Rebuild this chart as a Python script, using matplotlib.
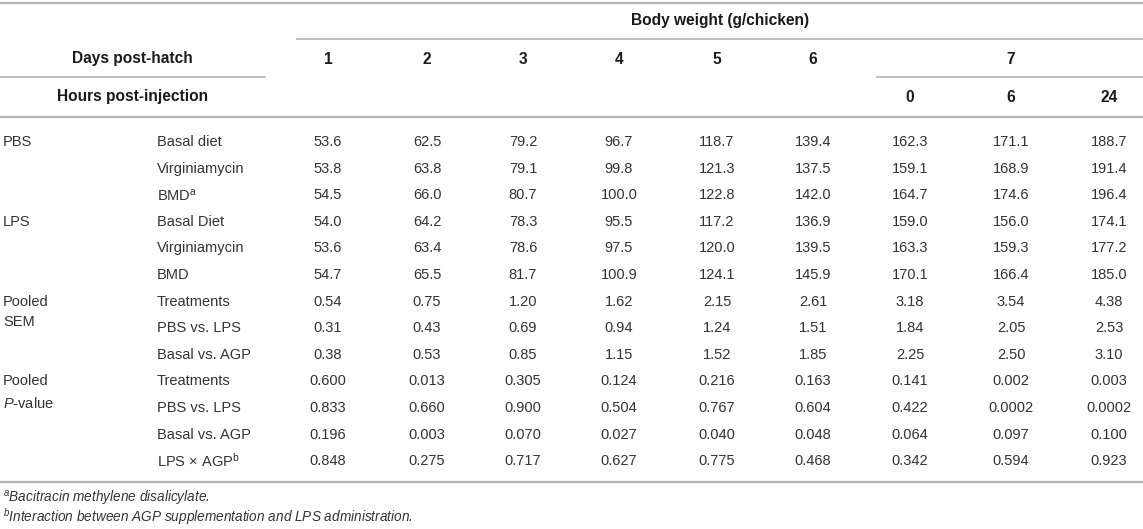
import matplotlib
matplotlib.use("Agg")
import matplotlib.pyplot as plt

plt.rcParams['font.family'] = ['Liberation Sans', 'DejaVu Sans']
plt.rcParams['mathtext.fontset'] = 'custom'
plt.rcParams['mathtext.rm'] = 'Liberation Sans'
plt.rcParams['mathtext.it'] = 'Liberation Sans:italic'
plt.rcParams['mathtext.bf'] = 'Liberation Sans:bold'

# table content
title = 'Body weight (g/chicken)'
days = ['1', '2', '3', '4', '5', '6', '7']
hours = ['0', '6', '24']
groups = ['PBS', '', '', 'LPS', '', '', 'Pooled\nSEM', '', '',
          'Pooled\n$\\mathit{P}$-value', '', '', '']
treatments = ['Basal diet', 'Virginiamycin', 'BMD$^{\\mathrm{a}}$',
              'Basal Diet', 'Virginiamycin', 'BMD',
              'Treatments', 'PBS vs. LPS', 'Basal vs. AGP',
              'Treatments', 'PBS vs. LPS', 'Basal vs. AGP',
              'LPS \u00d7 AGP$^{\\mathrm{b}}$']

pbs_basal = ['53.6', '62.5', '79.2', '96.7', '118.7', '139.4', '162.3', '171.1', '188.7']
pbs_virg = ['53.8', '63.8', '79.1', '99.8', '121.3', '137.5', '159.1', '168.9', '191.4']
pbs_bmd = ['54.5', '66.0', '80.7', '100.0', '122.8', '142.0', '164.7', '174.6', '196.4']
lps_basal = ['54.0', '64.2', '78.3', '95.5', '117.2', '136.9', '159.0', '156.0', '174.1']
lps_virg = ['53.6', '63.4', '78.6', '97.5', '120.0', '139.5', '163.3', '159.3', '177.2']
lps_bmd = ['54.7', '65.5', '81.7', '100.9', '124.1', '145.9', '170.1', '166.4', '185.0']
sem_trt = ['0.54', '0.75', '1.20', '1.62', '2.15', '2.61', '3.18', '3.54', '4.38']
sem_pbs_lps = ['0.31', '0.43', '0.69', '0.94', '1.24', '1.51', '1.84', '2.05', '2.53']
sem_basal_agp = ['0.38', '0.53', '0.85', '1.15', '1.52', '1.85', '2.25', '2.50', '3.10']
p_trt = ['0.600', '0.013', '0.305', '0.124', '0.216', '0.163', '0.141', '0.002', '0.003']
p_pbs_lps = ['0.833', '0.660', '0.900', '0.504', '0.767', '0.604', '0.422', '0.0002', '0.0002']
p_basal_agp = ['0.196', '0.003', '0.070', '0.027', '0.040', '0.048', '0.064', '0.097', '0.100']
p_inter = ['0.848', '0.275', '0.717', '0.627', '0.775', '0.468', '0.342', '0.594', '0.923']

footnotes = ['$^{a}$Bacitracin methylene disalicylate.',
             '$^{b}$Interaction between AGP supplementation and LPS administration.']

rows = [pbs_basal, pbs_virg, pbs_bmd, lps_basal, lps_virg, lps_bmd,
        sem_trt, sem_pbs_lps, sem_basal_agp,
        p_trt, p_pbs_lps, p_basal_agp, p_inter]

# layout (pixel coordinates)
W, H = 1143, 529
col_x = [328, 427, 523, 619, 717, 813, 910, 1011, 1109]
row_y0, row_dy = 142, 26.6
line_col = '#b4b4b4'
text_col = '#333333'
head_col = '#1a1a1a'
fs, hfs = 10.5, 11.2

fig = plt.figure(figsize=(W / 100, H / 100), dpi=100)
ax = fig.add_axes([0, 0, 1, 1])
ax.set_xlim(0, W)
ax.set_ylim(H, 0)
ax.axis('off')

# rules
ax.plot([0, W], [3, 3], color=line_col, lw=1.6)
ax.plot([297, W], [39, 39], color=line_col, lw=1.2)
ax.plot([0, 265], [77, 77], color=line_col, lw=1.2)
ax.plot([877, W], [77, 77], color=line_col, lw=1.2)
ax.plot([0, W], [117, 117], color=line_col, lw=1.6)
ax.plot([0, W], [482, 482], color=line_col, lw=1.6)

# header
hd = dict(fontsize=hfs, fontweight='bold', color=head_col, va='center', ha='center')
ax.text((297 + W) / 2, 21, title, **hd)
ax.text(132.5, 59, 'Days post-hatch', **hd)
ax.text(132.5, 97, 'Hours post-injection', **hd)
for i, d in enumerate(days[:-1]):
    ax.text(col_x[i], 59, d, **hd)
ax.text(col_x[7], 59, days[-1], **hd)
for i, h in enumerate(hours):
    ax.text(col_x[6 + i], 97, h, **hd)

# body
for r, vals in enumerate(rows):
    y = row_y0 + r * row_dy
    if groups[r]:
        ax.text(3, y - 7, groups[r], fontsize=fs, color=text_col, ha='left', va='top',
                linespacing=1.6)
    ax.text(157, y, treatments[r], fontsize=fs, color=text_col, ha='left', va='center')
    for c, v in enumerate(vals):
        ax.text(col_x[c], y, v, fontsize=fs, color=text_col, ha='center', va='center')

# footnotes
for k, note in enumerate(footnotes):
    ax.text(3, 498 + k * 19, note, fontsize=9.8, style='italic', color=text_col,
            ha='left', va='center')

fig.savefig('out.png', dpi=100)
